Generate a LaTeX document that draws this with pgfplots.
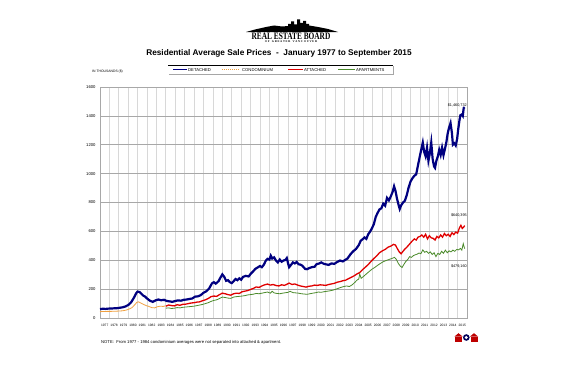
\documentclass[border=0pt]{standalone}
\usepackage{pgfplots}
\pgfplotsset{compat=1.18}
\usepackage{fontspec}
\setmainfont{Liberation Sans}
\newfontfamily\logoserif{Liberation Serif}
\definecolor{det}{HTML}{000080}
\definecolor{att}{HTML}{E00000}
\definecolor{apt}{HTML}{4A8A2A}
\definecolor{con}{HTML}{F0A040}
\definecolor{hgrid}{HTML}{A8A8A8}
\definecolor{vgrid}{HTML}{D8D8D8}
\begin{document}
\begin{tikzpicture}[x=1bp,y=1bp]
\fill[white] (0,0) rectangle (566,377);
% logo
\fill[black] (246,345) -- (255,347.5) -- (266,350) -- (274,351.5) -- (282,350.5) -- (288,351) -- (288,353) -- (291,353) -- (291,355.5) -- (294,355.5) -- (294,352.5) -- (297,352.5) -- (297,357.5) -- (300,357.5) -- (300,354) -- (303,354) -- (303,356) -- (306,356) -- (306,353) -- (309,353) -- (309,351.5) -- (318,350) -- (328,348) -- (338,345) -- cycle;
\node[font=\logoserif\bfseries\fontsize{8.6}{9}\selectfont, inner sep=0pt] at (291,341) {\scalebox{0.86}[1.15]{REAL ESTATE BOARD}};
\node[font=\logoserif\bfseries\fontsize{2.9}{3}\selectfont, inner sep=0pt] at (291,335.2) {O F\ \ \ G R E A T E R\ \ \ V A N C O U V E R};
\node[font=\fontsize{8.3}{10}\selectfont\bfseries, inner sep=0pt] at (279,324) {Residential Average Sale Prices\ \ -\ \ January 1977 to September 2015};
\node[anchor=west, font=\fontsize{3.4}{4}\selectfont, inner sep=0pt] at (92,305) {IN THOUSANDS (\$)};
\node[anchor=west, font=\fontsize{4.2}{5}\selectfont, inner sep=0pt] at (101,35) {NOTE:\ \ From 1977 - 1984 condominium averages were not separated into attached \& apartment.};
% legend box
\fill[gray!70] (169.2,302) rectangle (394.2,310.8);
\fill[black] (168,303) rectangle (393,311.7);
\fill[white] (168.4,303.4) rectangle (392.6,311.3);
\node[anchor=west, font=\fontsize{4.2}{5}\selectfont, inner sep=0pt] at (188,307.3) {DETACHED};
\node[anchor=west, font=\fontsize{4.2}{5}\selectfont, inner sep=0pt] at (242,307.3) {CONDOMINIUM};
\node[anchor=west, font=\fontsize{4.2}{5}\selectfont, inner sep=0pt] at (304,307.3) {ATTACHED};
\node[anchor=west, font=\fontsize{4.2}{5}\selectfont, inner sep=0pt] at (356,307.3) {APARTMENTS};
\fill[det] (172.5,306.6) rectangle (187,308.0);
\foreach \d in {222,224,...,239} {\fill[con] (\d,306.85) rectangle (\d+0.9,307.75);}
\fill[att] (288,306.7) rectangle (303,307.9);
\fill[apt] (338,306.8) rectangle (355,307.8);
% small logos
\fill[att!85!black] (455,35.5) rectangle (462,40.5);
\fill[att!85!black] (454.5,40.5) -- (458.5,43.8) -- (462.5,40.5) -- cycle;
\fill[det!70!black] (466.3,39.5) circle (3.3);
\fill[white] (466.3,39.5) circle (1.6);
\fill[att!85!black] (470.5,35.5) rectangle (477.5,40.5);
\fill[att!85!black] (470,40.5) -- (474,43.8) -- (478,40.5) -- cycle;
\begin{axis}[
  at={(100bp,59bp)}, anchor=south west, scale only axis,
  width=367bp, height=231bp,
  xmin=1977, xmax=2016, ymin=0, ymax=1600,
  xtick={1977,...,2015}, ytick={0,200,...,1600},
  /pgf/number format/1000 sep={},
  /pgf/number format/assume math mode=true,
  major tick length=0pt,
  xmajorgrids, ymajorgrids,
  x grid style={vgrid, line width=0.8bp},
  y grid style={hgrid, line width=0.7bp},
  axis line style={hgrid, line width=0.8bp},
  xticklabel style={font=\fontsize{3.3}{4}\selectfont, xshift=4.7bp, yshift=-2.5bp},
  yticklabel style={font=\fontsize{4.2}{5}\selectfont, xshift=-1bp},
  clip=false,
]
% condominium
\addplot[con, line width=0.8bp] coordinates {
(1977.0,44) (1977.4,45) (1977.8,46) (1978.2,46) (1978.6,47) (1979.0,48) (1979.4,50) (1979.8,55)
(1980.1,62) (1980.4,72) (1980.7,92) (1980.9,108) (1981.1,112) (1981.3,105) (1981.6,95) (1981.9,86)
(1982.2,80) (1982.5,72) (1982.8,70) (1983.1,78) (1983.4,82) (1983.7,80) (1983.95,84)
};
% apartments
\addplot[apt, line width=0.8bp] coordinates {
(1984.0,68) (1984.3,70) (1984.6,66) (1984.9,68) (1985.2,72) (1985.5,70) (1985.8,74) (1986.1,76)
(1986.4,78) (1986.7,80) (1987.0,82) (1987.3,86) (1987.6,90) (1987.9,94) (1988.2,100) (1988.5,106)
(1988.8,115) (1989.1,122) (1989.4,126) (1989.7,135) (1990.0,145) (1990.3,142) (1990.6,138) (1990.9,136)
(1991.2,145) (1991.5,148) (1991.8,150) (1992.1,152) (1992.4,155) (1992.7,160) (1993.0,162) (1993.3,165)
(1993.6,170) (1993.9,168) (1994.2,172) (1994.5,176) (1994.8,180) (1995.1,172) (1995.3,185) (1995.5,174)
(1995.8,170) (1996.1,168) (1996.4,172) (1996.7,175) (1997.0,178) (1997.2,185) (1997.5,176) (1997.8,174)
(1998.1,172) (1998.4,168) (1998.7,166) (1999.0,164) (1999.3,168) (1999.6,172) (1999.9,175) (2000.2,180)
(2000.5,178) (2000.8,182) (2001.1,185) (2001.4,188) (2001.7,192) (2002.0,198) (2002.3,205) (2002.6,212)
(2002.9,218) (2003.2,222) (2003.5,218) (2003.8,230) (2004.1,248) (2004.3,262) (2004.5,270) (2004.6,305)
(2004.75,275) (2005.0,288) (2005.3,305) (2005.6,322) (2005.9,338) (2006.2,350) (2006.5,365) (2006.8,378)
(2007.1,390) (2007.4,398) (2007.7,405) (2008.0,412) (2008.3,420) (2008.5,405) (2008.7,378) (2008.9,360)
(2009.1,350) (2009.3,372) (2009.5,392) (2009.7,405) (2009.9,425) (2010.1,420) (2010.3,432) (2010.5,438)
(2010.7,442) (2010.9,450) (2011.1,445) (2011.3,472) (2011.5,455) (2011.7,462) (2011.9,448) (2012.1,458)
(2012.3,440) (2012.5,452) (2012.7,425) (2012.9,448) (2013.1,440) (2013.3,462) (2013.5,448) (2013.7,470)
(2013.9,452) (2014.1,465) (2014.3,458) (2014.5,470) (2014.7,462) (2014.9,475) (2015.1,472) (2015.3,482)
(2015.45,470) (2015.6,515) (2015.75,480)
};
% attached
\addplot[att, line width=1.3bp] coordinates {
(1984.0,82) (1984.3,90) (1984.6,86) (1984.9,84) (1985.2,92) (1985.5,88) (1985.8,95) (1986.1,96)
(1986.4,100) (1986.7,104) (1987.0,106) (1987.3,110) (1987.6,112) (1987.9,120) (1988.2,126) (1988.5,135)
(1988.8,148) (1989.1,152) (1989.4,150) (1989.7,162) (1990.0,172) (1990.3,168) (1990.6,162) (1990.9,158)
(1991.2,168) (1991.5,172) (1991.8,170) (1992.1,182) (1992.4,186) (1992.7,190) (1993.0,198) (1993.3,205)
(1993.6,215) (1993.9,212) (1994.2,222) (1994.5,230) (1994.8,235) (1995.1,228) (1995.4,232) (1995.7,225)
(1996.0,222) (1996.3,230) (1996.6,226) (1996.9,235) (1997.1,242) (1997.4,232) (1997.7,236) (1998.0,228)
(1998.3,222) (1998.6,218) (1998.9,214) (1999.2,220) (1999.5,222) (1999.8,228) (2000.1,226) (2000.4,230)
(2000.7,228) (2001.0,226) (2001.3,232) (2001.6,236) (2001.9,240) (2002.2,248) (2002.5,252) (2002.8,258)
(2003.1,262) (2003.4,272) (2003.7,282) (2004.0,292) (2004.3,305) (2004.6,315) (2004.9,335) (2005.2,352)
(2005.5,370) (2005.8,392) (2006.1,412) (2006.4,430) (2006.7,452) (2007.0,465) (2007.3,475) (2007.6,490)
(2007.9,498) (2008.2,510) (2008.4,505) (2008.6,480) (2008.8,458) (2009.0,445) (2009.2,462) (2009.4,478)
(2009.6,490) (2009.8,505) (2010.0,520) (2010.2,535) (2010.4,548) (2010.6,540) (2010.8,560) (2011.0,565)
(2011.2,575) (2011.4,560) (2011.6,580) (2011.8,548) (2012.0,570) (2012.2,555) (2012.4,552) (2012.6,540)
(2012.8,565) (2013.0,555) (2013.2,575) (2013.4,560) (2013.6,585) (2013.8,570) (2014.0,580) (2014.2,565)
(2014.4,590) (2014.6,578) (2014.8,595) (2015.0,588) (2015.2,625) (2015.35,642) (2015.5,620) (2015.65,630)
(2015.75,640)
};
% detached
\addplot[det, line width=2.2bp] coordinates {
(1977.0,62) (1977.3,64) (1977.6,63) (1977.9,65) (1978.2,66) (1978.5,67) (1978.8,68) (1979.1,71)
(1979.4,74) (1979.7,80) (1980.0,90) (1980.3,108) (1980.6,140) (1980.85,172) (1981.0,183) (1981.2,180)
(1981.4,168) (1981.6,155) (1981.8,148) (1982.0,135) (1982.3,120) (1982.6,112) (1982.9,122) (1983.2,128)
(1983.5,123) (1983.8,126) (1984.1,118) (1984.4,115) (1984.7,112) (1985.0,118) (1985.3,122) (1985.6,120)
(1985.9,126) (1986.2,128) (1986.5,132) (1986.8,135) (1987.1,148) (1987.4,150) (1987.7,158) (1988.0,175)
(1988.3,185) (1988.6,205) (1988.9,240) (1989.1,248) (1989.3,238) (1989.6,255) (1989.8,280) (1990.0,302)
(1990.2,285) (1990.4,258) (1990.6,262) (1990.8,248) (1991.0,242) (1991.2,255) (1991.4,270) (1991.6,262)
(1991.8,275) (1992.0,265) (1992.2,285) (1992.5,292) (1992.8,288) (1993.0,305) (1993.3,325) (1993.5,340)
(1993.8,352) (1994.0,360) (1994.2,352) (1994.4,368) (1994.6,395) (1994.8,410) (1995.0,405) (1995.15,432)
(1995.3,412) (1995.5,420) (1995.7,398) (1995.9,385) (1996.1,405) (1996.3,390) (1996.5,398) (1996.7,402)
(1996.85,415) (1997.0,375) (1997.1,352) (1997.3,368) (1997.5,385) (1997.7,378) (1997.9,388) (1998.1,372)
(1998.3,370) (1998.5,362) (1998.8,340) (1999.0,338) (1999.2,345) (1999.5,352) (1999.8,355) (2000.0,372)
(2000.3,378) (2000.5,385) (2000.8,375) (2001.0,372) (2001.3,368) (2001.6,378) (2001.9,375) (2002.2,388)
(2002.5,398) (2002.8,392) (2003.0,400) (2003.3,412) (2003.6,440) (2003.9,462) (2004.2,478) (2004.5,505)
(2004.7,535) (2004.9,545) (2005.1,558) (2005.3,548) (2005.5,580) (2005.7,598) (2005.9,622) (2006.1,650)
(2006.3,700) (2006.5,728) (2006.7,752) (2006.9,760) (2007.1,792) (2007.3,778) (2007.5,832) (2007.7,815)
(2007.9,842) (2008.1,875) (2008.25,912) (2008.4,880) (2008.55,830) (2008.7,790) (2008.85,755) (2009.0,780)
(2009.2,800) (2009.4,812) (2009.6,852) (2009.8,905) (2010.0,945) (2010.2,968) (2010.4,985) (2010.6,995)
(2010.8,1060) (2011.0,1125) (2011.15,1170) (2011.3,1215) (2011.45,1150) (2011.6,1120) (2011.75,1180) (2011.9,1090)
(2012.05,1140) (2012.2,1215) (2012.35,1100) (2012.5,1050) (2012.6,1040) (2012.75,1090) (2012.9,1120) (2013.05,1165)
(2013.2,1130) (2013.35,1180) (2013.5,1128) (2013.65,1170) (2013.8,1215) (2013.95,1280) (2014.1,1320) (2014.25,1350)
(2014.4,1280) (2014.5,1200) (2014.65,1210) (2014.8,1195) (2014.95,1240) (2015.05,1300) (2015.2,1370) (2015.3,1405)
(2015.45,1410) (2015.55,1400) (2015.65,1455) (2015.75,1460)
};
\node[anchor=east, font=\fontsize{3.8}{4}\selectfont, inner sep=0pt] at (axis cs:2016,1472) {\$1,460,732};
\node[anchor=east, font=\fontsize{3.8}{4}\selectfont, inner sep=0pt] at (axis cs:2016,713) {\$640,395};
\node[anchor=east, font=\fontsize{3.8}{4}\selectfont, inner sep=0pt] at (axis cs:2016,355) {\$479,160};
\end{axis}
\end{tikzpicture}
\end{document}
